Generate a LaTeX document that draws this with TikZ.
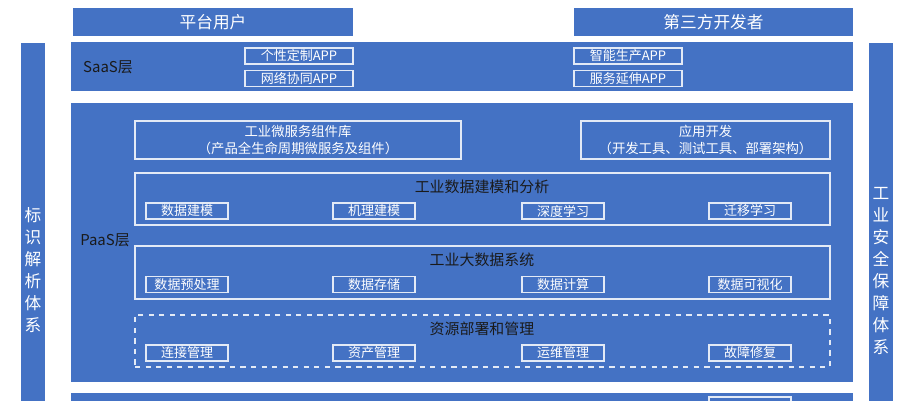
\documentclass[tikz,border=0pt]{standalone}
\usepackage{fontspec}
\setmainfont{Noto Sans CJK SC}
\usetikzlibrary{positioning}
\definecolor{layerblue}{HTML}{4472C4}
\definecolor{darktext}{HTML}{1A1A1A}
\tikzset{
  band/.style={fill=layerblue, draw=none, inner sep=0pt},
  head/.style={band, text=white, font=\fontsize{9.5}{10}\selectfont},
  group/.style={draw=white!85!layerblue, line width=0.6pt, inner sep=0pt},
  item/.style={draw=white!85!layerblue, line width=0.6pt, inner sep=0pt, text=white,
    minimum width=82*0.02cm, minimum height=16*0.02cm, font=\fontsize{7.4}{8}\selectfont},
  app/.style={item, minimum width=108*0.02cm},
  title/.style={text=darktext, font=\fontsize{8.5}{9}\selectfont},
  side/.style={text=white, font=\fontsize{9.5}{12.5}\selectfont, align=center}
}
\begin{document}
\begin{tikzpicture}[x=0.02cm, y=-0.02cm]
  \useasboundingbox (0,0) rectangle (901,400);
  \clip (0,0) rectangle (901,400);
  % top users
  \node[head, minimum width=280*0.02cm, minimum height=28*0.02cm] (users) at (213,22) {平台用户};
  \node[head, minimum width=279*0.02cm, minimum height=28*0.02cm] (devs) at (713.5,22) {第三方开发者};
  % side bars
  \node[band, minimum width=24*0.02cm, minimum height=360*0.02cm] (idbar) at (33,223) {};
  \node[side] (idtext) at (33,270) {标\\识\\解\\析\\体\\系};
  \node[band, minimum width=24*0.02cm, minimum height=360*0.02cm] (secbar) at (881,223) {};
  \node[side] (sectext) at (881,271) {工\\业\\安\\全\\保\\障\\体\\系};
  % SaaS layer
  \node[band, minimum width=782*0.02cm, minimum height=49*0.02cm] (saas) at (462,66.5) {};
  \node[title] (saaslabel) at (108,67) {SaaS层};
  \node[app] (custom) at (299,56) {个性定制APP};
  \node[app] (collab) at (299,78.5) {网络协同APP};
  \node[app] (smart) at (628,56) {智能生产APP};
  \node[app] (extend) at (628,78.5) {服务延伸APP};
  % PaaS layer
  \node[band, minimum width=782*0.02cm, minimum height=279*0.02cm] (paas) at (462,242.5) {};
  \node[title] (paaslabel) at (105,240) {PaaS层};
  \node[group, minimum width=326*0.02cm, minimum height=38*0.02cm, text=white, align=center,
    font=\fontsize{7.6}{10}\selectfont] (micro) at (298,140) {工业微服务组件库\\（产品全生命周期微服务及组件）};
  \node[group, minimum width=249*0.02cm, minimum height=38*0.02cm, text=white, align=center,
    font=\fontsize{7.6}{10}\selectfont] (appdev) at (705.5,140) {应用开发\\（开发工具、测试工具、部署架构）};
  \node[group, minimum width=695*0.02cm, minimum height=52*0.02cm] (model) at (482.5,199) {};
  \node[title] (modeltitle) at (482,187) {工业数据建模和分析};
  \node[group, minimum width=695*0.02cm, minimum height=53*0.02cm] (bigdata) at (482.5,272.5) {};
  \node[title] (bigtitle) at (482,260) {工业大数据系统};
  \node[group, dashed, minimum width=695*0.02cm, minimum height=52*0.02cm] (res) at (482.5,341) {};
  \node[title] (restitle) at (482,329) {资源部署和管理};
  \node[item] (m1) at (187,211) {数据建模};
  \node[item] (m2) at (374,211) {机理建模};
  \node[item] (m3) at (563,211) {深度学习};
  \node[item] (m4) at (750,211) {迁移学习};
  \node[item] (b1) at (187,284.5) {数据预处理};
  \node[item] (b2) at (374,284.5) {数据存储};
  \node[item] (b3) at (563,284.5) {数据计算};
  \node[item] (b4) at (750,284.5) {数据可视化};
  \node[item] (r1) at (187,353) {连接管理};
  \node[item] (r2) at (374,353) {资产管理};
  \node[item] (r3) at (563,353) {运维管理};
  \node[item] (r4) at (750,353) {故障修复};
  % next layer (cut off)
  \node[band, minimum width=782*0.02cm, minimum height=40*0.02cm] (iaas) at (462,413) {};
  \node[item] (i4) at (750,405) {};
\end{tikzpicture}
\end{document}
